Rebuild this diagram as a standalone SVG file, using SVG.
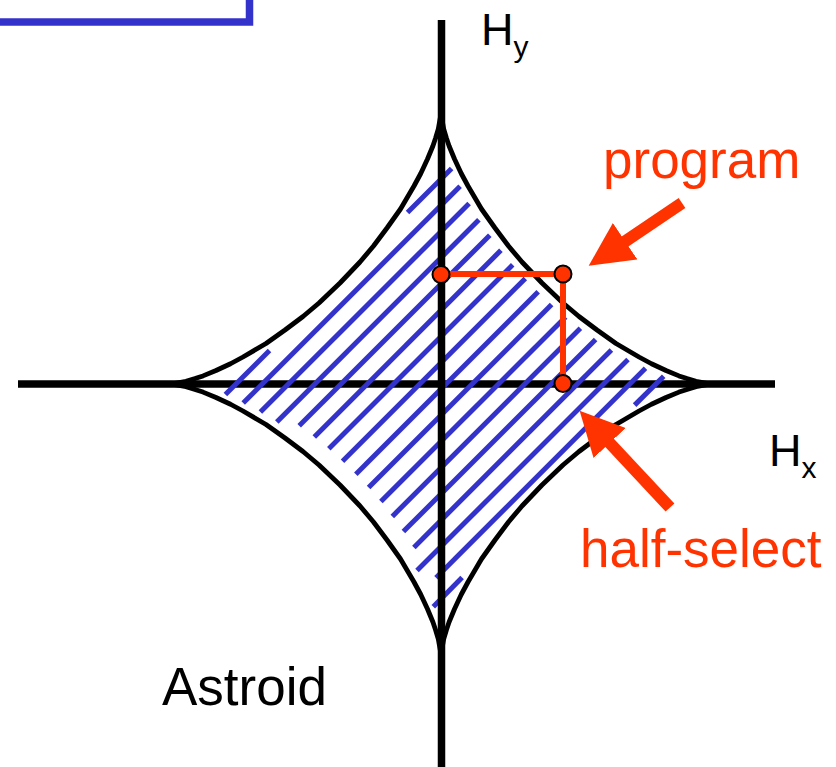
<svg xmlns="http://www.w3.org/2000/svg" width="836" height="767" viewBox="0 0 836 767">
  <style>
    .axis { stroke: #000; stroke-width: 7.5; fill: none; }
    .curve { stroke: #000; stroke-width: 4.8; fill: none; stroke-linejoin: round; }
    .hatch line { stroke: #3333CC; stroke-width: 5; stroke-linecap: butt; }
    .red { stroke: #FF3300; stroke-width: 6; fill: none; }
    .dot { fill: #FF3300; stroke: #000; stroke-width: 2; }
    .arrow { stroke: #FF3300; stroke-width: 12; fill: none; marker-end: url(#ah); }
    .lbl { font-family: "Liberation Sans", Arial, sans-serif; }
    .redtxt { fill: #FF3300; font-size: 53px; }
    .blk { fill: #000; }
  </style>
  <defs>
    <marker id="ah" markerUnits="userSpaceOnUse" markerWidth="44" markerHeight="44" viewBox="0 0 44 44" refX="2" refY="22" orient="auto">
      <path d="M0,0 L44,22 L0,44 Z" fill="#FF3300"/>
    </marker>
    <path id="quad" d="M-270,0 L-255,-2.7 L-246,-5.4 L-238,-8.1 L-225,-13.5 L-210.5,-20.25 L-198,-27 L-175,-40.5 L-156,-54 L-138,-67.5 L-122,-81 L-101,-101 L-81,-122 L-67.5,-138 L-54,-156 L-40.5,-175 L-27,-198 L-20.25,-210.5 L-13.5,-225 L-8.1,-238 L-5.4,-246 L-2.7,-255 L0,-270"/>
  </defs>
  <rect width="836" height="767" fill="#fff"/>

  <g id="title-box">
    <rect x="-10" y="-10" width="259.5" height="32" fill="#fff" stroke="#3333CC" stroke-width="7.5"/>
  </g>

  <g id="axis-x">
    <line class="axis" x1="18" y1="384" x2="775" y2="384"/>
  </g>

  <g id="hatch" class="hatch">
    <line x1="225.4" y1="394.6" x2="269.5" y2="350.5"/>
    <line x1="407.5" y1="212.5" x2="451.6" y2="168.4"/>
    <line x1="243.2" y1="403.1" x2="460.1" y2="186.2"/>
    <line x1="260.4" y1="412.1" x2="469.1" y2="203.4"/>
    <line x1="276.8" y1="421.9" x2="478.9" y2="219.8"/>
    <line x1="299.2" y1="425.8" x2="489.8" y2="235.2"/>
    <line x1="314.3" y1="436.9" x2="500.9" y2="250.3"/>
    <line x1="328.8" y1="448.7" x2="512.7" y2="264.8"/>
    <line x1="342.5" y1="461.3" x2="525.3" y2="278.5"/>
    <line x1="355.8" y1="474.2" x2="538.2" y2="291.8"/>
    <line x1="368.6" y1="487.6" x2="551.6" y2="304.6"/>
    <line x1="380.9" y1="501.6" x2="565.6" y2="316.9"/>
    <line x1="392.3" y1="516.4" x2="580.4" y2="328.3"/>
    <line x1="403.4" y1="531.6" x2="595.6" y2="339.4"/>
    <line x1="413.9" y1="547.4" x2="611.4" y2="349.9"/>
    <line x1="417" y1="570.5" x2="628" y2="359.5"/>
    <line x1="436" y1="577.75" x2="645.5" y2="368.2"/>
    <line x1="433.3" y1="606.7" x2="462.1" y2="577.6"/>
    <line x1="634.6" y1="405.1" x2="663.7" y2="376.3"/>
  </g>

  <g id="axis-y">
    <line class="axis" x1="441.5" y1="20" x2="441.5" y2="767"/>
  </g>

  <g id="astroid" class="curve">
    <use href="#quad" transform="translate(441,384)"/>
    <use href="#quad" transform="translate(441,384) scale(-1,1)"/>
    <use href="#quad" transform="translate(441,384) scale(1,-1)"/>
    <use href="#quad" transform="translate(441,384) scale(-1,-1)"/>
  </g>

  <g id="switching-path">
    <path class="red" d="M441,274 H563 V384"/>
    <circle class="dot" cx="441" cy="274.5" r="8.5"/>
    <circle class="dot" cx="563" cy="274" r="8.5"/>
    <circle class="dot" cx="563" cy="383.5" r="8.5"/>
  </g>

  <g id="connectors">
    <line class="arrow" x1="682" y1="203" x2="623.5" y2="242.4"/>
    <line class="arrow" x1="670" y1="507.5" x2="608.3" y2="441.5"/>
  </g>

  <g id="label-program">
    <text class="lbl redtxt" x="603" y="178">program</text>
  </g>
  <g id="label-half-select">
    <text class="lbl redtxt" x="580" y="567">half-select</text>
  </g>
  <g id="label-astroid">
    <text class="lbl blk" x="162" y="705" font-size="53">Astroid</text>
  </g>
  <g id="label-hy">
    <text class="lbl blk" x="481" y="45" font-size="45">H<tspan font-size="30" dy="12">y</tspan></text>
  </g>
  <g id="label-hx">
    <text class="lbl blk" x="769" y="466" font-size="45">H<tspan font-size="30" dy="12">x</tspan></text>
  </g>
</svg>
